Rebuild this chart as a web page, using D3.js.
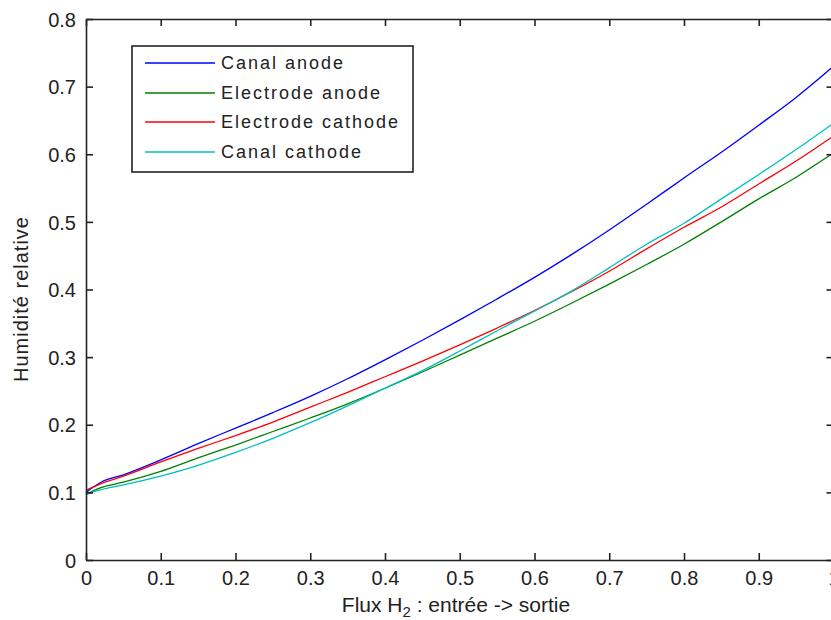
<!DOCTYPE html>
<html><head><meta charset="utf-8">
<script src="https://cdn.jsdelivr.net/npm/d3@7"></script>
<style>
html,body{margin:0;padding:0;background:#fff;}
svg{display:block;font-family:"Liberation Sans",Arial,sans-serif;}
</style></head>
<body>
<svg id="c" width="831" height="620"></svg>
<script>
const xs = [0, 0.02, 0.05, 0.1, 0.15, 0.2, 0.25, 0.3, 0.35, 0.4, 0.45, 0.5, 0.55, 0.6, 0.65, 0.7, 0.75, 0.8, 0.85, 0.9, 0.95, 1.0];
const canalAnode       = [0.100, 0.115, 0.126, 0.148, 0.172, 0.195, 0.218, 0.242, 0.268, 0.296, 0.325, 0.355, 0.386, 0.418, 0.452, 0.488, 0.526, 0.565, 0.603, 0.643, 0.684, 0.730];
const electrodeAnode   = [0.097, 0.107, 0.115, 0.131, 0.151, 0.170, 0.190, 0.210, 0.231, 0.254, 0.278, 0.303, 0.328, 0.353, 0.380, 0.408, 0.437, 0.467, 0.500, 0.534, 0.566, 0.602];
const electrodeCathode = [0.103, 0.113, 0.124, 0.145, 0.165, 0.184, 0.204, 0.226, 0.248, 0.271, 0.294, 0.318, 0.343, 0.369, 0.397, 0.427, 0.460, 0.492, 0.522, 0.556, 0.590, 0.627];
const canalCathode     = [0.097, 0.104, 0.111, 0.124, 0.140, 0.159, 0.180, 0.203, 0.228, 0.254, 0.280, 0.309, 0.339, 0.368, 0.398, 0.432, 0.467, 0.498, 0.534, 0.570, 0.607, 0.646];
const seriesNames = ["Canal anode", "Electrode anode", "Electrode cathode", "Canal cathode"];
const seriesColors = ["#0000ff", "#008000", "#ff0000", "#00bfbf"];
const xTicks = [0, 0.1, 0.2, 0.3, 0.4, 0.5, 0.6, 0.7, 0.8, 0.9, 1];
const yTicks = [0, 0.1, 0.2, 0.3, 0.4, 0.5, 0.6, 0.7, 0.8];

const series = [canalAnode, electrodeAnode, electrodeCathode, canalCathode];
const svg = d3.select("#c");
const L = 86, R = 833.5, T = 19, B = 560;
const x = d3.scaleLinear().domain([0, 1]).range([L, R]);
const y = d3.scaleLinear().domain([0, 0.8]).range([B, T]);

// lines
const line = d3.line().x(d => x(d[0])).y(d => y(d[1])).curve(d3.curveMonotoneX);
series.forEach((s, i) => {
  svg.append("path").datum(xs.map((v, j) => [v, s[j]]))
    .attr("d", line).attr("fill", "none")
    .attr("stroke", seriesColors[i]).attr("stroke-width", 1.3);
});

// axes
const axStroke = "#222";
const gBottom = svg.append("g").attr("transform", `translate(0,${B})`)
  .call(d3.axisBottom(x).tickValues(xTicks).tickSizeInner(-7).tickSizeOuter(0).tickPadding(11).tickFormat(d3.format("")));
const gTop = svg.append("g").attr("transform", `translate(0,${T})`)
  .call(d3.axisTop(x).tickValues(xTicks).tickSizeInner(-7).tickSizeOuter(0).tickFormat(""));
const gLeft = svg.append("g").attr("transform", `translate(${L},0)`)
  .call(d3.axisLeft(y).tickValues(yTicks).tickSizeInner(-7).tickSizeOuter(0).tickPadding(10).tickFormat(d3.format("")));
const gRight = svg.append("g").attr("transform", `translate(${R},0)`)
  .call(d3.axisRight(y).tickValues(yTicks).tickSizeInner(-7).tickSizeOuter(0).tickFormat(""));
[gBottom, gTop, gLeft, gRight].forEach(g => {
  g.select(".domain").attr("stroke", axStroke).attr("stroke-width", 1.6);
  g.selectAll(".tick line").attr("stroke", axStroke).attr("stroke-width", 1.6);
  g.selectAll(".tick text").attr("fill", "#222").style("font-size", "20px").style("font-family", "Liberation Sans, Arial, sans-serif");
});
gBottom.selectAll(".tick text").attr("dy", "0.71em");
gLeft.selectAll(".tick text").attr("dy", "0.36em");

// axis labels
const xl = svg.append("text").attr("x", 456).attr("y", 612).attr("text-anchor", "middle")
  .style("font-size", "21px").attr("fill", "#222");
xl.append("tspan").text("Flux H");
xl.append("tspan").text("2").style("font-size", "15px").attr("dy", 5);
xl.append("tspan").text(" : entrée -> sortie").attr("dy", -5);

svg.append("text").attr("transform", "translate(28,299) rotate(-90)").attr("text-anchor", "middle")
  .style("font-size", "20px").style("letter-spacing", "1px").attr("fill", "#222").text("Humidité relative");

// legend
const lg = svg.append("g");
lg.append("rect").attr("x", 132).attr("y", 46).attr("width", 281).attr("height", 126)
  .attr("fill", "#fff").attr("stroke", "#222").attr("stroke-width", 1.6);
const rowY = [63, 93, 122, 152];
seriesNames.forEach((n, i) => {
  lg.append("line").attr("x1", 145).attr("x2", 215).attr("y1", rowY[i]).attr("y2", rowY[i])
    .attr("stroke", seriesColors[i]).attr("stroke-width", 1.3);
  lg.append("text").attr("x", 221).attr("y", rowY[i]).attr("dy", "0.36em")
    .style("font-size", "18px").style("letter-spacing", "2px").attr("fill", "#222").text(n);
});
</script>
</body></html>
